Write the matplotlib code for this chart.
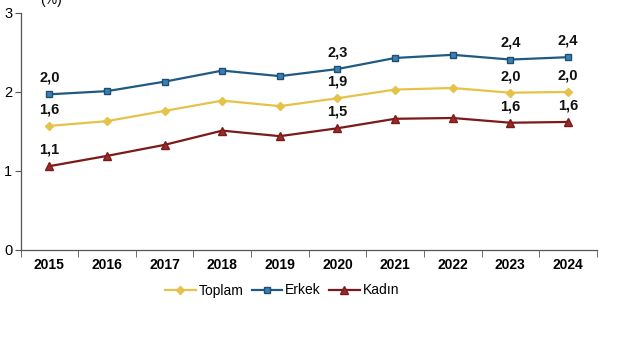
import matplotlib
matplotlib.use("Agg")
import matplotlib.pyplot as plt
import numpy as np

plt.rcParams['font.family'] = ['Liberation Sans', 'DejaVu Sans']

years = ["2015", "2016", "2017", "2018", "2019", "2020", "2021", "2022", "2023", "2024"]
toplam = [1.57, 1.63, 1.76, 1.89, 1.82, 1.92, 2.03, 2.05, 1.99, 2.00]
erkek = [1.97, 2.01, 2.13, 2.27, 2.20, 2.29, 2.43, 2.47, 2.41, 2.44]
kadin = [1.06, 1.19, 1.33, 1.51, 1.44, 1.54, 1.66, 1.67, 1.61, 1.62]

toplam_labels = {0: "1,6", 5: "1,9", 8: "2,0", 9: "2,0"}
erkek_labels = {0: "2,0", 5: "2,3", 8: "2,4", 9: "2,4"}
kadin_labels = {0: "1,1", 5: "1,5", 8: "1,6", 9: "1,6"}

fig = plt.figure(figsize=(6.41, 3.5), dpi=100)
ax = fig.add_axes([0.032, 0.286, 0.899, 0.677])

x = np.arange(len(years))
c_top = "#E6C24A"
c_erk = "#2F6F9F"
c_kad = "#7A1A1A"

ax.plot(x, toplam, color=c_top, lw=1.6, marker="D", ms=4, mfc=c_top, mec=c_top, label="Toplam")
ax.plot(x, erkek, color="#1F5A80", lw=1.6, marker="s", ms=5, mfc="#3C7FB5", mec="#1F4F70", label="Erkek")
ax.plot(x, kadin, color=c_kad, lw=1.6, marker="^", ms=5.5, mfc="#9B2A2A", mec=c_kad, label="Kad\u0131n")

for series, labels in ((toplam, toplam_labels), (erkek, erkek_labels), (kadin, kadin_labels)):
    for i, t in labels.items():
        ax.annotate(t, (x[i], series[i]), xytext=(0, 7), textcoords="offset points",
                    ha="center", va="bottom", fontsize=10.5, fontweight="bold", color="#111111")

ax.set_xlim(-0.5, len(years) - 0.5)
ax.set_ylim(0, 3)
ax.set_yticks([0, 1, 2, 3])
ax.set_yticklabels(["0", "1", "2", "3"], fontsize=10.5)
ax.set_xticks(x)
ax.set_xticklabels(years, fontsize=10, fontweight="bold")
ax.set_xticks(np.arange(-0.5, len(years), 1), minor=True)
ax.tick_params(axis="x", which="major", length=0, pad=6)
ax.tick_params(axis="x", which="minor", length=5, direction="out", color="#555555")
ax.tick_params(axis="y", length=4, direction="out", color="#555555", pad=2)
for s in ("top", "right"):
    ax.spines[s].set_visible(False)
for s in ("left", "bottom"):
    ax.spines[s].set_color("#555555")
    ax.spines[s].set_linewidth(0.9)

fig.text(0.062, 1.0, "(%)", fontsize=10, ha="left", va="center")

leg = fig.legend(loc="center", bbox_to_anchor=(0.44, 0.17), ncol=3, frameon=False,
                 fontsize=10, handlelength=2.2, handletextpad=0.2, columnspacing=0.6)

fig.savefig("out.png", dpi=100)
